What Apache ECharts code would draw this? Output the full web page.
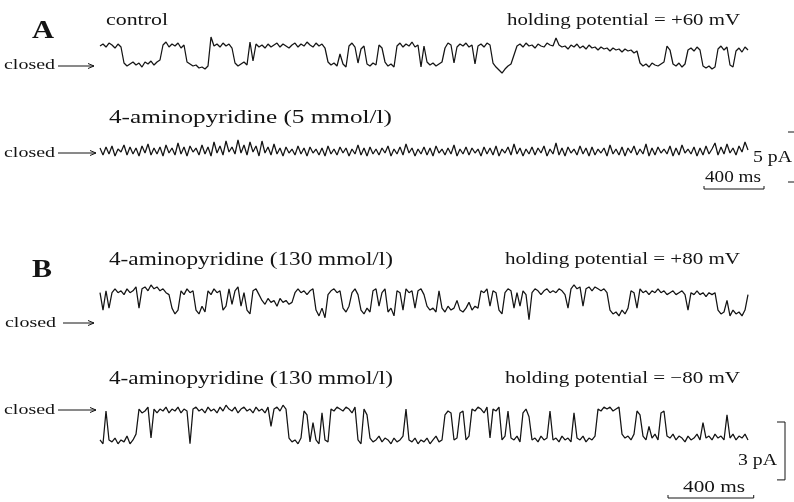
<!DOCTYPE html>
<html>
<head>
<meta charset="utf-8">
<script src="https://cdn.jsdelivr.net/npm/echarts@6/dist/echarts.min.js"></script>
<style>
  html, body { margin: 0; padding: 0; background: #fff; }
  #chart { width: 794px; height: 502px; }
</style>
</head>
<body>
<div id="chart"></div>
<script>
// Single-channel current recordings, sampled every stepA / stepB ms.
// Values are current in pA relative to the closed level.
const stepA = 20;   // ms per sample, panel A
const stepB = 14;   // ms per sample, panel B

// A: control, holding potential +60 mV
const controlTrace = [
  1.8,2.0,1.7,2.1,1.9,1.6,2.0,1.7,
  0.1,-0.2,0.0,0.2,-0.1,0.1,-0.3,0.2,0.0,0.3,-0.1,0.2,0.4,
  1.9,2.2,1.7,2.0,1.8,2.1,1.6,1.9,
  0.2,0.0,-0.2,-0.1,-0.4,-0.3,-0.5,-0.2,
  2.7,
  1.8,2.0,1.7,2.1,1.8,2.0,1.6,
  0.1,-0.2,0.0,0.2,-0.1,
  2.2,0.3,
  2.0,1.7,1.9,1.6,2.0,1.7,1.9,2.1,1.7,2.0,1.8,1.6,1.9,2.1,1.7,2.0,1.8,2.2,1.9,1.7,2.1,1.8,2.0,1.6,
  0.2,-0.1,0.1,-0.2,
  1.0,
  0.0,-0.3,
  1.8,2.1,1.7,
  0.1,
  1.5,1.8,
  0.0,-0.2,0.1,-0.1,
  1.9,1.6,
  0.2,-0.2,0.0,-0.3,
  1.8,2.1,1.7,2.0,1.8,2.2,1.7,1.9,
  -0.3,
  1.8,
  0.2,-0.1,0.1,-0.2,0.0,0.2,
  1.6,2.1,1.9,
  0.1,
  1.7,2.0,1.8,2.1,1.7,1.9,
  0.0,
  1.8,2.0,1.7,2.1,1.9,
  0.1,-0.3,-0.6,-0.9,-0.5,-0.2,0.0,
  0.9,
  1.8,2.0,1.7,2.1,1.8,1.9,1.6,2.0,1.8,1.7,2.1,1.9,1.8,
  2.6,
  1.9,1.7,1.8,1.5,1.9,1.7,2.0,1.6,1.8,1.5,1.9,1.6,1.7,1.4,1.7,1.5,1.6,1.3,1.6,1.4,1.5,1.2,1.5,1.3,1.4,1.1,1.3,
  0.1,-0.2,0.0,-0.3,0.1,-0.1,-0.2,0.0,0.2,
  1.8,1.4,
  0.0,-0.2,0.1,-0.3,0.0,
  1.4,1.6,1.3,1.7,1.4,
  -0.2,-0.4,-0.2,-0.5,-0.3,
  1.5,1.8,1.4,1.7,
  -0.1,-0.3,
  1.3,1.6,1.2,1.7,1.4
];

// A: 4-aminopyridine 5 mmol/l, fast flicker
const ap5Trace = [
  0.5,-0.2,0.6,-0.1,0.7,-0.3,0.4,0.1,0.8,-0.2,
  0.6,-0.1,0.5,-0.3,0.7,0.0,0.9,-0.2,0.5,-0.1,
  0.6,-0.3,0.8,0.0,0.5,-0.2,1.0,-0.1,0.6,-0.3,
  0.7,0.1,0.5,-0.2,0.8,-0.1,0.6,-0.3,1.1,0.0,
  0.7,-0.2,1.2,0.1,0.6,-0.1,1.3,0.0,0.8,-0.2,
  1.1,0.1,0.7,-0.3,1.2,0.0,0.6,-0.2,0.9,-0.1,
  0.5,-0.3,0.6,0.0,0.4,-0.2,0.7,-0.1,0.5,-0.3,
  0.6,0.0,0.4,-0.2,0.5,-0.3,0.7,-0.1,0.4,-0.2,
  0.6,0.0,0.5,-0.3,0.4,-0.1,0.8,-0.2,0.5,-0.3,
  0.6,-0.1,0.4,-0.2,0.5,0.0,0.7,-0.3,0.4,-0.1,
  0.6,-0.2,0.9,0.0,0.5,-0.3,0.4,-0.1,0.6,-0.2,
  0.5,-0.3,0.7,0.0,0.4,-0.2,0.5,-0.1,0.8,-0.3,
  0.4,-0.1,0.6,-0.2,0.5,0.0,0.4,-0.3,0.6,-0.1,
  0.5,-0.2,0.7,-0.3,0.4,0.0,0.6,-0.2,0.9,-0.1,
  0.5,-0.3,0.4,-0.1,0.6,-0.2,0.5,0.0,0.7,-0.3,
  0.4,-0.1,1.0,-0.2,0.5,-0.3,0.6,0.0,0.4,-0.2,
  0.7,-0.1,0.5,-0.3,0.6,-0.2,0.4,0.0,0.5,-0.3,
  0.8,-0.1,0.4,-0.2,0.6,-0.3,0.5,0.0,0.7,-0.2,
  0.4,-0.1,0.9,-0.3,0.5,-0.2,0.6,0.0,0.4,-0.1,
  0.7,-0.3,0.5,-0.2,0.8,0.0,0.4,-0.1,0.6,-0.3,
  0.5,-0.2,0.7,-0.1,0.4,1.0,-0.2,0.6,-0.1,0.9,
  0.0,0.5,-0.2,0.7,0.1,1.1,0.3
];

// B: 4-aminopyridine 130 mmol/l, holding potential +80 mV
const ap130PosTrace = [
  1.0,0.1,1.1,0.2,1.0,1.2,1.0,1.1,0.9,1.2,
  1.0,1.1,1.3,0.2,1.2,1.3,1.1,1.4,1.2,1.3,
  1.1,1.2,1.0,0.9,0.2,-0.1,0.1,1.1,0.9,1.2,
  1.0,1.1,0.1,-0.1,0.3,0.0,1.1,0.9,1.2,1.0,
  1.1,0.1,0.3,1.2,0.4,1.1,1.3,0.3,1.0,0.1,
  -0.1,1.1,1.2,0.9,0.6,0.4,0.7,0.5,0.6,0.3,
  0.7,0.5,0.6,0.4,0.5,1.0,1.2,1.0,1.1,0.9,
  1.1,1.2,0.1,-0.2,0.2,-0.3,0.9,1.1,1.2,1.0,
  1.1,0.2,0.0,0.3,1.0,1.2,0.9,0.1,-0.1,0.2,
  0.0,1.1,1.2,0.3,1.0,1.2,0.0,0.2,-0.2,1.1,
  1.0,0.1,1.2,1.0,1.1,0.2,1.1,1.2,0.9,0.3,
  0.1,0.2,0.0,1.1,0.2,0.0,0.3,0.1,0.2,0.6,
  0.1,0.0,0.2,0.5,0.1,0.3,0.2,1.1,1.0,1.2,
  0.3,1.1,1.0,0.1,-0.1,1.0,1.2,1.1,0.2,1.0,
  0.3,1.1,0.9,-0.4,1.0,1.2,1.1,0.9,1.1,1.2,
  1.0,1.1,1.0,1.2,1.1,0.9,0.2,1.2,1.4,1.2,
  1.3,0.3,1.2,1.3,1.1,1.3,1.2,1.1,1.2,1.0,
  0.1,-0.1,0.0,-0.2,0.1,-0.1,0.2,1.1,1.0,0.2,
  1.2,1.0,1.1,0.9,1.1,1.0,1.2,1.0,1.1,0.9,
  1.0,1.1,0.9,1.0,1.1,0.9,0.1,1.0,0.9,1.1,
  0.9,1.0,0.8,1.0,0.9,1.0,0.1,-0.1,0.0,0.6,
  -0.2,0.1,-0.1,0.0,-0.2,0.1,0.9
];

// B: 4-aminopyridine 130 mmol/l, holding potential -80 mV (openings downward)
const ap130NegTrace = [
  -1.5,-1.7,0.0,-1.5,-1.6,-1.4,-1.7,-1.5,-1.6,-1.3,
  -1.7,-1.5,-1.2,0.1,-0.1,0.0,0.2,-1.4,0.1,-0.1,
  0.1,0.0,0.2,-0.1,0.1,0.0,0.2,-0.1,0.1,0.0,
  -1.7,0.1,0.2,0.0,0.1,-0.1,0.2,0.0,0.1,-0.1,
  0.2,0.0,0.3,0.1,0.0,0.2,-0.1,0.1,0.2,0.0,
  0.1,-0.1,0.2,0.0,0.1,-0.1,0.2,-0.8,0.1,0.2,
  0.0,0.3,0.1,-1.4,-1.6,-1.5,-1.7,-1.4,0.0,-0.2,
  -1.6,-0.6,-1.5,-1.7,-0.1,-1.5,-1.6,0.1,0.0,0.2,
  0.1,0.0,0.2,0.1,-0.1,0.2,-1.5,-1.7,0.1,-0.2,
  -1.4,-1.6,-1.5,-1.3,-1.6,-1.4,-1.5,-1.7,-1.4,-1.6,
  -1.5,-1.3,0.1,-1.5,-1.6,-1.4,-1.7,-1.5,-1.6,-1.4,
  -1.7,-1.5,-1.3,-1.6,-1.5,-0.2,0.0,-0.1,-1.5,-1.4,
  -0.1,0.0,-1.5,-1.3,0.1,0.0,0.2,0.1,-0.1,0.2,
  -1.4,0.1,0.0,0.2,-1.5,-1.3,0.0,-1.4,-1.5,-1.3,
  -1.6,-0.1,0.1,-0.3,-1.5,-1.4,-1.6,-1.3,-1.5,-1.4,
  0.0,-1.5,-1.4,-1.6,-1.3,-1.5,-1.4,-1.6,-0.1,-1.4,
  -1.5,-1.3,-1.6,-1.4,-1.5,-1.3,0.1,0.0,0.2,0.1,
  0.2,0.0,0.1,0.2,-1.2,-1.4,-1.3,-1.5,-1.2,0.0,
  -0.2,-1.3,-1.5,-0.8,-1.4,-1.2,-1.5,-0.1,0.0,-1.3,
  -1.4,-1.2,-1.5,-1.3,-1.4,-1.6,-1.3,-1.5,-1.4,-1.2,
  -1.5,-0.6,-1.4,-1.3,-1.5,-1.2,-1.4,-1.3,-1.5,-0.2,
  -1.4,-1.2,-1.5,-1.3,-1.4,-1.2,-1.5
];

// Calibration bars
const barA = { ms: 400, pA: 5 };
const barB = { ms: 400, pA: 3 };

// Text
const panelLetters = ['A', 'B'];
const conditionLabels = ['control', '4-aminopyridine (5 mmol/l)', '4-aminopyridine (130 mmol/l)', '4-aminopyridine (130 mmol/l)'];
const holdingLabels = ['holding potential = +60 mV', 'holding potential = +80 mV', 'holding potential = \u221280 mV'];
const closedLabel = 'closed';

// ---------- layout ----------
const TRACE_LEFT = 100;
const PX_PER_SAMPLE = 3;
const W = 794;

// pixel frame of each recording: top/bottom of the drawing band, the closed level and gain
const panels = [
  { top: 20,  bottom: 95,  closedY: 64,  pxPerPA: 10,   step: stepA, data: controlTrace },
  { top: 115, bottom: 205, closedY: 153, pxPerPA: 10,   step: stepA, data: ap5Trace },
  { top: 275, bottom: 340, closedY: 312, pxPerPA: 19.3, step: stepB, data: ap130PosTrace },
  { top: 392, bottom: 502, closedY: 411, pxPerPA: 19.3, step: stepB, data: ap130NegTrace }
];
panels.forEach(p => {
  p.msPerPx = p.step / PX_PER_SAMPLE;
  p.xMax = (W - TRACE_LEFT) * p.msPerPx;
  p.yMin = -(p.bottom - p.closedY) / p.pxPerPA;
  p.yMax = (p.closedY - p.top) / p.pxPerPA;
  // helpers for placing calibration bars in data units
  p.t = px => (px - TRACE_LEFT) * p.msPerPx;
  p.v = py => (p.closedY - py) / p.pxPerPA;
});

const INK = '#141414';

const traceSeries = panels.map((p, i) => ({
  type: 'line',
  xAxisIndex: i, yAxisIndex: i,
  data: p.data.map((v, k) => [k * p.step, v]),
  showSymbol: false, symbol: 'none',
  lineStyle: { color: INK, width: 1.25 },
  silent: true
}));

// calibration bars drawn in the data space of the trace they belong to
function lineSeries(i, pts) {
  return {
    type: 'line', xAxisIndex: i, yAxisIndex: i, data: pts,
    showSymbol: false, symbol: 'none', clip: false, silent: true,
    lineStyle: { color: INK, width: 1 }
  };
}
const pA2 = panels[1], pB2 = panels[3];
// panel A: 400 ms bracket and 5 pA bar (its vertical runs along the page edge)
const aT0 = pA2.t(704), aY = pA2.v(189), aTick = 3 / pA2.pxPerPA;
const aVx = pA2.t(796), aVx0 = pA2.t(788), aVtop = pA2.v(132);
const bT0 = pB2.t(668), bY = pB2.v(498), bTick = 3 / pB2.pxPerPA;
const bVx = pB2.t(785), bVx0 = pB2.t(777), bVtop = pB2.v(422);
const barSeries = [
  lineSeries(1, [[aT0, aY + aTick], [aT0, aY], [aT0 + barA.ms, aY], [aT0 + barA.ms, aY + aTick]]),
  lineSeries(1, [[aVx0, aVtop], [aVx, aVtop], [aVx, aVtop - barA.pA], [aVx0, aVtop - barA.pA]]),
  lineSeries(3, [[bT0, bY + bTick], [bT0, bY], [bT0 + barB.ms, bY], [bT0 + barB.ms, bY + bTick]]),
  lineSeries(3, [[bVx0, bVtop], [bVx, bVtop], [bVx, bVtop - barB.pA], [bVx0, bVtop - barB.pA]])
];

// ---------- text and arrows ----------
const SERIF = '"Liberation Serif", "Times New Roman", serif';
const measureCtx = document.createElement('canvas').getContext('2d');
// text set in a serif face, stretched horizontally to span [x0, x1]
function label(text, x0, x1, cy, size, bold) {
  const font = (bold ? 'bold ' : '') + size + 'px ' + SERIF;
  measureCtx.font = font;
  const w = measureCtx.measureText(text).width || 1;
  return {
    type: 'text', x: x0, y: cy, scaleX: (x1 - x0) / w, silent: true,
    style: {
      text: text, font: font,
      fill: INK, textAlign: 'left', textVerticalAlign: 'middle',
      align: 'left', verticalAlign: 'middle'
    }
  };
}
function arrow(x1, x2, y) {
  return [
    { type: 'line', silent: true, shape: { x1: x1, y1: y, x2: x2, y2: y }, style: { stroke: INK, lineWidth: 1 } },
    { type: 'polyline', silent: true, shape: { points: [[x2 - 6, y - 2.5], [x2, y], [x2 - 6, y + 2.5]] }, style: { stroke: INK, lineWidth: 1, fill: null } }
  ];
}

const graphics = [
  label(panelLetters[0], 32, 54, 32, 25, true),
  label(panelLetters[1], 32, 52, 271, 25, true),
  label(conditionLabels[0], 106, 168, 21, 17),
  label(holdingLabels[0], 507, 740, 21, 16),
  label(conditionLabels[1], 109, 392, 118, 19),
  label(conditionLabels[2], 109, 393, 260, 18),
  label(holdingLabels[1], 505, 740, 260, 16),
  label(conditionLabels[3], 109, 393, 379, 18),
  label(holdingLabels[2], 505, 740, 379, 16),
  label(closedLabel, 4, 55, 65, 15), ...arrow(58, 94, 66),
  label(closedLabel, 4, 55, 153, 15), ...arrow(58, 96, 153),
  label(closedLabel, 5, 56, 323, 15), ...arrow(63, 94, 323),
  label(closedLabel, 4, 55, 410, 15), ...arrow(58, 96, 410),
  label(barA.pA + ' pA', 753, 792, 158, 16),
  label(barA.ms + ' ms', 705, 761, 178, 16),
  label(barB.pA + ' pA', 738, 777, 461, 16),
  label(barB.ms + ' ms', 683, 745, 488, 16)
];

const chart = echarts.init(document.getElementById('chart'), null, { renderer: 'canvas' });
chart.setOption({
  animation: false,
  backgroundColor: '#ffffff',
  grid: panels.map(p => ({ left: TRACE_LEFT, right: 0, top: p.top, height: p.bottom - p.top })),
  xAxis: panels.map((p, i) => ({ type: 'value', gridIndex: i, min: 0, max: p.xMax, show: false })),
  yAxis: panels.map((p, i) => ({ type: 'value', gridIndex: i, min: p.yMin, max: p.yMax, show: false })),
  series: traceSeries.concat(barSeries),
  graphic: graphics
});
</script>
</body>
</html>
